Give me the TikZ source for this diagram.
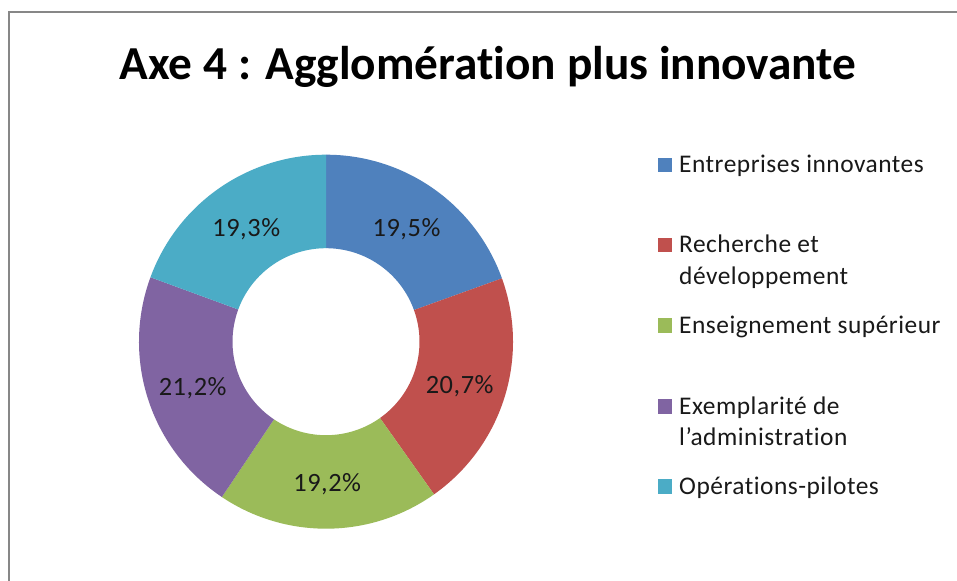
\documentclass[tikz,border=0pt]{standalone}
\usepackage{fontspec}
\setmainfont{Carlito}[Ligatures=NoCommon]
\newfontfamily\legfont{Carlito}[Ligatures=NoCommon, LetterSpace=2]
\newfontfamily\pctfont{Carlito}[Ligatures=NoCommon, LetterSpace=2]
\definecolor{cblue}{HTML}{4F81BD}
\definecolor{cred}{HTML}{C0504D}
\definecolor{cgreen}{HTML}{9BBB59}
\definecolor{cpurple}{HTML}{8064A2}
\definecolor{caqua}{HTML}{4BACC6}
\definecolor{frame}{HTML}{878787}
\begin{document}
\begin{tikzpicture}[x=1bp,y=1bp,
  pct/.style={font=\pctfont\fontsize{26.5}{30}\selectfont, text depth=0pt, inner sep=0pt, text=black!90},
  legtext/.style={font=\legfont\fontsize{25.5}{28}\selectfont, anchor=base west, inner sep=0pt, text=black!90},
  legsq/.style={inner sep=0pt, minimum width=14.5bp, minimum height=14.5bp, anchor=south west}]
\useasboundingbox (0,0) rectangle (957,-581);
\fill[white] (0,0) rectangle (957,-581);
% frame
\draw[frame, line width=2bp] (9,-581) -- (9,-12) -- (957,-12);
% title
\node[anchor=base, inner sep=0pt, font=\fontsize{47.5}{56}\selectfont\bfseries] (title) at (488,-80) {Axe 4 : Agglomération plus innovante};
% donut
\def\R{187}\def\r{93.5}
\begin{scope}[shift={(326,-341.7)}]
\newcommand\seg[3]{\fill[#3] (#1:\R) arc[start angle=#1, end angle=#2, radius=\R] -- (#2:\r) arc[start angle=#2, end angle=#1, radius=\r] -- cycle;}
\seg{90}{19.8}{cblue}
\seg{19.8}{-54.72}{cred}
\seg{-54.72}{-123.84}{cgreen}
\seg{-123.84}{-200.16}{cpurple}
\seg{-200.16}{-270}{caqua}
\node[pct] (p1) at (54.9:140) {19,5\%};
\node[pct] (p2) at (-17.9:140.5) {20,7\%};
\node[pct] (p3) at (-89.5:141) {19,2\%};
\node[pct] (p4) at (-161.6:140.5) {21,2\%};
\node[pct] (p5) at (125:139) {19,3\%};
\end{scope}
% legend
\node[legsq, fill=cblue] (s1) at (657.5,-172.5) {};
\node[legtext] (l1) at (679,-172.5) {Entreprises innovantes};
\node[legsq, fill=cred] (s2) at (657.5,-252.5) {};
\node[legtext] (l2a) at (679,-252.5) {Recherche et};
\node[legtext] (l2b) at (679,-284.5) {développement};
\node[legsq, fill=cgreen] (s3) at (657.5,-333) {};
\node[legtext] (l3) at (679,-333) {Enseignement supérieur};
\node[legsq, fill=cpurple] (s4) at (657.5,-414) {};
\node[legtext] (l4a) at (679,-414) {Exemplarité de};
\node[legtext] (l4b) at (679,-445) {l’administration};
\node[legsq, fill=caqua] (s5) at (657.5,-494) {};
\node[legtext] (l5) at (679,-494) {Opérations-pilotes};
\end{tikzpicture}
\end{document}
